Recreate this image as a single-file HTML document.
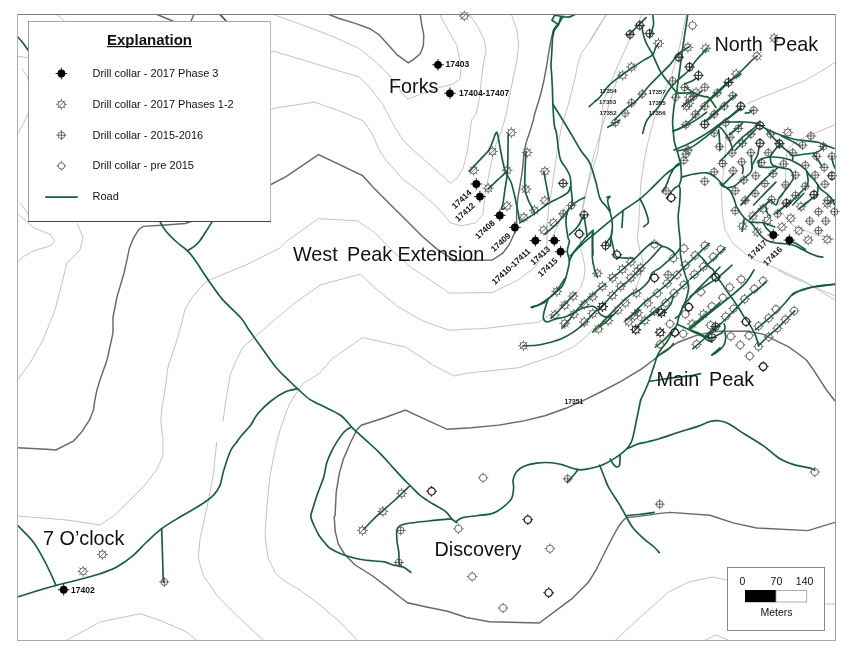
<!DOCTYPE html>
<html><head><meta charset="utf-8">
<style>
html,body{margin:0;padding:0;background:#fff;}
body{width:858px;height:663px;overflow:hidden;position:relative;}
svg{position:absolute;left:0;top:0;will-change:transform;}
text{font-family:"Liberation Sans",sans-serif;}
.c1{fill:none;stroke:#b4b4b4;stroke-width:0.8;}
.c5{fill:none;stroke:#696969;stroke-width:1.45;}
.rd{fill:none;stroke:#0f6236;stroke-width:1.65;stroke-linejoin:round;stroke-linecap:round;}
.lbl{font-size:18.5px;fill:#111;}
.id{font-size:8.5px;font-weight:bold;fill:#111;}
</style></head>
<body>
<svg width="858" height="663" viewBox="0 0 858 663">
<defs>
  <g id="p3"><circle r="3.9" fill="#000"/><path d="M0-5.8V5.8M-5.8 0H5.8" stroke="#000" stroke-width="0.9"/></g>
  <g id="p12"><circle r="3.4" fill="none" stroke="#484848" stroke-width="0.8"/><path d="M-2.4 2.4L2.4-2.4M0-3.4V-5.4M0 3.4V5.4M-3.4 0H-5.4M3.4 0H5.4M-2.4-2.4L-3.8-3.8M2.4 2.4L3.8 3.8M-2.4 2.4L-3.8 3.8M2.4-2.4L3.8-3.8" stroke="#484848" stroke-width="0.8" fill="none"/></g>
  <g id="p15"><circle r="3.4" fill="none" stroke="#484848" stroke-width="0.8"/><path d="M0-5V5M-5 0H5" stroke="#484848" stroke-width="0.8"/></g>
  <g id="pre"><circle r="3.6" fill="none" stroke="#484848" stroke-width="0.8"/><path d="M0-3.6V-5.2M0 3.6V5.2M-3.6 0H-5.2M3.6 0H5.2" stroke="#484848" stroke-width="0.8"/></g>
  <g id="p12d"><circle r="3.4" fill="none" stroke="#222" stroke-width="1.1"/><path d="M-2.4 2.4L2.4-2.4M0-3.4V-5.4M0 3.4V5.4M-3.4 0H-5.4M3.4 0H5.4M-2.4-2.4L-3.8-3.8M2.4 2.4L3.8 3.8M-2.4 2.4L-3.8 3.8M2.4-2.4L3.8-3.8" stroke="#222" stroke-width="1.1" fill="none"/></g>
  <g id="p15d"><circle r="3.6" fill="none" stroke="#2a2a2a" stroke-width="1.1"/><path d="M0-5.2V5.2M-5.2 0H5.2" stroke="#2a2a2a" stroke-width="1"/></g>
  <g id="pred"><circle r="3.7" fill="none" stroke="#1a1a1a" stroke-width="1.2"/><path d="M0-3.7V-5.4M0 3.7V5.4M-3.7 0H-5.4M3.7 0H5.4" stroke="#1a1a1a" stroke-width="1"/></g>
  <g id="preL"><circle r="3.2" fill="none" stroke="#484848" stroke-width="0.8"/><path d="M0-3.2V-4.8M0 3.2V4.8M-3.2 0H-4.8M3.2 0H4.8" stroke="#484848" stroke-width="0.8"/></g>
</defs>

<g id="contours">
<polyline class="c1" points="273.4,14.5 307.0,26.6 334.2,37.1 359.4,48.6 376.2,62.2 390.9,77.0 400.0,90.0 407.6,99.0 422.3,93.7 440.0,87.4 452.6,84.3 460.0,79.0 461.0,68.5 458.9,56.0 456.8,45.5 448.4,30.8 441.0,17.0 440.0,14.5"/>
<polyline class="c1" points="270.2,52.8 274.4,51.3 307.0,61.2 334.2,69.6 359.4,77.0 369.9,87.4 382.5,104.2 395.0,127.3 403.0,140.0 413.0,150.0 432.8,167.3 450.5,183.0 456.8,178.7 463.1,168.2 467.3,151.5 469.4,136.8 471.5,120.0 475.7,114.7 478.8,102.1 481.0,83.2 483.0,66.4 486.2,49.7 484.0,39.2 477.8,26.6 469.4,14.5"/>
<polyline class="c1" points="270.2,110.5 273.4,108.4 314.3,102.1 338.4,110.5 363.6,121.0 372.0,133.6 379.3,150.0 386.7,161.0 403.5,179.9 420.3,192.4 437.0,207.1 450.5,222.8 461.0,225.9 475.7,222.8 483.0,214.4 484.0,203.9 485.1,193.4 488.2,178.7 491.4,162.0 495.6,145.2 501.5,131.0 506.1,114.7 509.2,97.9 513.4,77.0 516.6,62.2 518.7,45.5 516.6,28.7 511.3,14.5"/>
<polyline class="c1" points="17.5,516.0 67.0,520.0 100.0,525.0 113.6,516.0 124.1,505.9 132.5,497.5 145.1,484.9 157.6,468.1 162.9,455.5 162.9,438.7 160.8,422.0 161.8,407.3 165.0,390.0 168.0,367.0 177.0,340.0 182.0,322.0 185.0,309.0 192.6,296.8 203.9,283.9 210.2,279.7 245.9,265.0 279.4,248.2 286.0,241.7 318.5,218.7 357.3,220.8 374.1,232.3 395.1,253.3 411.9,268.0 422.4,274.7 449.6,293.1 492.3,292.5 517.5,280.3 534.3,267.8 546.8,251.0 547.0,224.9 549.1,203.9 551.2,193.4 558.0,145.0 562.0,125.0"/>
<polyline class="c1" points="223.0,421.0 227.0,393.0 230.3,374.4 236.6,359.7 243.0,347.0 257.6,334.5 274.4,319.9 297.5,301.0 320.6,284.8 360.5,274.1 374.1,287.3 397.2,306.2 422.4,320.8 449.6,330.3 466.0,329.2 483.9,328.6 517.5,324.4 538.5,322.3 551.0,313.9 562.0,305.2 573.1,296.8 580.1,288.4 583.8,279.0"/>
<polyline class="c1" points="294.4,396.0 302.8,383.8 319.6,373.3 332.2,358.6 362.6,337.6 405.6,347.1 432.8,364.9 453.8,376.0 466.0,373.3 519.3,367.7 534.0,362.5 555.0,355.5 573.1,347.1 587.1,335.9 592.7,329.0"/>
<polyline class="c1" points="18.3,214.3 33.3,227.7 50.0,234.3 55.0,241.0 50.0,246.0 33.0,251.0 21.7,257.7 17.5,262.7"/>
<polyline class="c1" points="77.0,223.0 83.0,237.0 80.0,250.0 67.0,263.0 62.0,283.0 55.0,310.0 43.0,340.0 30.0,363.0 17.5,380.0"/>
<polyline class="c1" points="66.7,640.3 100.0,622.0 140.0,613.7 160.0,620.3 186.7,632.0 196.7,640.3"/>
<polyline class="c1" points="216.7,442.0 213.3,475.3 206.7,508.7 200.0,538.7 198.3,558.7 203.3,575.3 216.7,595.3 240.0,618.7 263.3,640.3"/>
<polyline class="c1" points="276.7,442.0 270.0,475.3 266.7,508.7 265.0,535.3 268.0,558.0 276.0,574.0 286.0,582.0 300.0,590.0 320.0,605.0 340.0,622.0 357.0,640.3"/>
<polyline class="c1" points="835.4,62.1 824.0,69.5 806.0,80.1 781.6,89.9 762.0,97.2 747.3,103.7"/>
<polyline class="c1" points="606.3,14.5 590.0,41.7"/>
<polyline class="c1" points="641.9,14.8 630.7,37.2 625.1,49.8 616.7,68.0 611.1,81.9 605.5,95.9 602.7,102.0 603.0,116.3 597.8,152.0 591.5,172.9 585.2,193.9 581.0,214.9 579.9,229.6 580.5,240.0 581.0,250.0 584.0,262.0 585.0,270.0 583.8,279.0"/>
<polyline class="c1" points="686.3,14.5 680.0,45.0 671.6,76.0 662.0,96.0 655.0,116.0 648.1,141.5 643.9,162.4 640.8,183.4 639.7,204.4 638.7,225.4 637.3,239.3 640.1,251.4 642.9,260.8 641.0,274.8 637.3,284.1 635.4,290.0"/>
<polyline class="c1" points="726.3,126.2 725.0,160.0 722.0,185.0 721.5,190.0 722.3,212.7 725.0,230.2 733.7,244.2 751.2,258.2 777.4,268.7 803.6,280.9 826.4,294.9 835.0,300.0"/>
<polyline class="c1" points="620.0,70.6 607.8,108.4 601.5,129.4 595.2,150.0 591.0,166.2 586.8,189.2 582.6,210.2"/>
<polyline class="c1" points="615.3,640.3 638.7,618.7 668.7,592.0 688.7,582.0 712.0,577.0 728.7,580.3"/>
<polyline class="c1" points="825.3,603.7 835.3,604.3"/>
<polyline class="c1" points="705.3,640.3 715.3,634.7 728.7,640.3"/>
<polyline class="c1" points="551.0,240.5 558.0,225.0 566.0,205.0"/>
<polyline class="c1" points="606.2,14.5 597.1,28.8 588.7,42.8 581.7,52.6 577.6,65.1 574.8,79.1 570.6,95.9 569.2,102.0 566.0,112.0 562.0,125.0"/>
<polyline class="c1" points="777.6,207.3 792.2,224.8 805.3,230.6 817.0,235.0 834.5,239.3"/>
<polyline class="c1" points="834.7,124.8 817.9,131.8 803.9,137.4 794.1,143.0 787.1,150.0 785.7,164.0 785.7,177.9 784.3,191.9 778.7,205.0"/>
<polyline class="c1" points="777.4,270.0 792.0,277.3 806.6,283.1 815.0,287.5 835.0,296.0"/>
<polyline class="c1" points="56.8,14.5 65.6,22.0"/>
<polyline class="c1" points="17.5,56.3 23.0,57.0 29.0,58.0"/>
<polyline class="c1" points="22.0,68.7 27.0,76.0 29.0,82.4"/>
<polyline class="c1" points="29.0,111.7 23.0,124.0 17.5,134.5"/>
<polyline class="c1" points="20.0,203.0 25.0,209.0 29.0,216.0"/>
<polyline class="c1" points="294.4,396.0 289.0,405.0 284.9,416.0 280.0,430.0 276.7,442.0"/>
<polyline class="c5" points="329.0,14.5 338.4,18.2 355.2,23.4 369.9,28.7 379.3,35.0 388.8,45.5 397.2,54.9 408.3,62.9 414.0,59.1 420.2,53.9 423.4,45.5 423.8,35.0 421.3,22.4 420.2,14.5"/>
<polyline class="c5" points="191.3,221.5 185.0,223.5 162.0,225.2 143.1,226.4 138.9,229.4 133.6,237.8 129.4,248.2 126.3,262.9 124.0,273.0 117.0,297.0 113.0,317.0 113.0,333.0 107.0,360.0 100.0,380.0 96.8,390.5 94.7,401.0 93.7,409.4 89.5,419.9 82.1,431.4 73.7,440.8 55.9,449.9 46.5,449.2 17.5,447.8"/>
<polyline class="c5" points="270.0,185.0 286.0,176.7 318.5,154.7 362.6,175.7 374.1,188.2 388.8,202.9 407.7,221.8 422.4,236.5 437.0,249.1 454.5,260.4 492.3,260.0 502.8,253.1 509.1,244.7 514.5,233.3 516.6,224.9 516.6,212.3 517.6,199.7 519.7,187.1 521.8,174.5 522.9,166.2 523.9,153.6 526.0,143.1 530.2,130.5 533.4,120.0 534.4,114.7 538.4,102.0 541.0,93.0 544.0,80.0 546.5,67.0 548.5,54.0 551.0,40.0 553.1,31.6"/>
<polyline class="c5" points="572.0,598.7 539.3,623.0 510.0,622.3 489.4,621.7 466.4,617.5 447.5,611.2 426.5,607.0 407.6,602.8 399.2,596.5 388.7,588.1 372.0,575.5 355.2,565.0 344.7,554.5 338.4,544.1 335.2,531.5 334.2,516.8 335.1,515.4 336.2,492.3 339.3,473.4 343.5,458.7 350.8,442.0 357.1,429.4 361.3,425.2 384.4,417.8 405.4,410.1 426.4,419.9 447.3,429.3 471.5,427.8 498.7,425.1 523.9,420.9 544.9,415.7 565.9,408.3 586.8,398.9 603.6,390.5 621.0,381.3 642.0,368.7 653.1,360.3 662.9,352.0 678.3,342.2 695.1,335.9 706.3,333.1 719.1,331.2 748.3,331.2 762.8,334.1 777.4,341.4 789.1,347.2 799.3,354.5 806.6,360.3 812.0,367.7 826.5,390.0 835.0,401.0"/>
<polyline class="c5" points="572.0,598.7 580.0,590.5 588.7,582.0 596.0,570.0 603.0,556.0 609.0,544.0 614.3,534.0 619.0,526.0 623.0,520.5 627.0,517.5 637.3,516.6 660.0,513.4 670.3,512.4 709.9,515.2 733.2,522.9 756.6,528.0 807.8,530.6 821.8,526.4 835.0,522.4"/>
<polyline class="c5" points="157.0,14.5 175.0,22.0"/>
<polyline class="c5" points="193.9,14.5 190.6,22.0"/>
</g><g id="roads">
<path class="rd" d="M159.9,221.5 C160.9,223.2 163.4,228.1 166.2,231.5 C169.0,234.9 173.0,238.8 176.6,242.0 C180.2,245.2 184.3,247.7 187.5,250.8 C190.7,253.9 192.1,256.0 195.5,260.8 C198.9,265.6 203.7,273.4 208.1,279.7 C212.5,286.0 216.6,292.5 222.0,298.9 C227.4,305.2 236.3,312.6 240.8,317.8 C245.3,323.0 246.0,325.8 249.2,330.3 C252.3,334.8 255.1,338.7 259.7,345.0 C264.2,351.3 271.9,362.5 276.5,368.1 C281.1,373.7 283.5,375.2 287.0,378.6 C290.5,382.0 293.6,385.2 297.5,388.7 C301.4,392.2 305.2,396.4 310.1,399.6 C315.0,402.8 321.6,405.3 326.8,408.0 C332.0,410.7 337.1,412.6 341.5,416.0 C345.9,419.4 348.9,424.3 352.9,428.3 C356.9,432.3 361.3,436.0 365.5,439.9 C369.7,443.8 373.9,447.2 378.1,451.4 C382.3,455.6 386.9,460.8 390.7,465.0 C394.5,469.2 397.9,473.1 401.2,476.6 C404.5,480.1 407.5,482.9 410.6,486.0 C413.8,489.1 416.4,492.4 420.1,495.4 C423.8,498.4 428.4,501.2 432.6,503.8 C436.8,506.4 442.0,508.7 445.2,511.2 C448.4,513.7 449.9,517.1 451.7,518.9 C453.5,520.7 455.0,521.4 455.9,522.0 C456.8,522.6 456.6,522.6 456.8,522.7"/>
<path class="rd" d="M212.3,221.5 C211.2,223.2 208.1,228.3 206.0,231.5 C203.9,234.7 201.6,238.5 199.7,240.9 C197.8,243.3 196.5,244.5 194.5,246.2 C192.5,247.8 188.7,250.0 187.5,250.8"/>
<path class="rd" d="M297.5,388.7 C295.4,389.2 289.3,389.9 284.9,392.0 C280.5,394.1 275.5,397.4 271.0,401.0 C266.5,404.6 261.4,409.5 258.0,413.5 C254.6,417.5 253.3,421.6 250.6,425.2 C247.9,428.8 244.3,432.2 242.0,435.0 C239.7,437.8 237.6,440.8 236.7,442.0"/>
<path class="rd" d="M550.8,318.0 C551.9,317.1 555.1,314.6 557.3,312.4 C559.5,310.2 561.6,307.2 563.8,304.9 C566.0,302.6 568.3,300.4 570.3,298.4 C572.3,296.4 575.0,293.7 575.9,292.8"/>
<polyline class="rd" points="220.0,14.5 227.0,22.0"/>
<path class="rd" d="M17.5,597.0 C20.1,596.2 26.8,594.0 33.3,592.0 C39.8,590.0 49.5,587.2 56.7,585.3 C63.9,583.3 69.5,582.2 76.7,580.3 C83.9,578.4 93.3,575.9 100.0,573.7 C106.7,571.5 111.2,570.1 116.7,567.0 C122.2,563.9 128.3,559.5 133.3,555.3 C138.3,551.1 142.0,546.4 146.7,542.0 C151.4,537.6 156.1,532.9 161.7,528.7 C167.2,524.5 173.6,520.9 180.0,517.0 C186.4,513.1 194.4,508.9 200.0,505.3 C205.6,501.7 210.0,498.6 213.3,495.3 C216.6,492.0 218.3,489.2 220.0,485.3 C221.7,481.4 221.6,477.6 223.3,472.0 C225.0,466.4 227.8,457.0 230.0,452.0 C232.2,447.0 235.6,443.7 236.7,442.0"/>
<polyline class="rd" points="161.7,528.7 163.3,582.0"/>
<path class="rd" d="M17.5,525.3 C20.1,528.1 29.0,536.4 33.3,542.0 C37.6,547.6 40.5,553.7 43.3,558.7 C46.1,563.7 47.9,567.6 50.0,572.0 C52.1,576.4 55.0,583.1 56.0,585.3"/>
<path class="rd" d="M350.8,427.3 C349.8,428.0 346.6,429.4 344.5,431.5 C342.4,433.6 340.3,436.8 338.2,439.9 C336.1,443.0 333.9,446.5 332.0,450.3 C330.1,454.1 328.1,458.3 326.7,462.9 C325.3,467.4 325.2,472.4 323.6,477.6 C322.0,482.9 319.2,488.8 317.3,494.4 C315.4,500.0 313.1,507.3 312.0,511.2 C310.9,515.0 310.5,514.7 311.0,517.5 C311.5,520.3 313.8,524.9 315.2,528.0 C316.6,531.1 317.8,533.5 319.4,536.0 C321.0,538.5 323.2,541.0 325.0,543.0 C326.8,545.0 327.1,546.3 330.0,548.2 C332.9,550.1 338.1,552.8 342.6,554.5 C347.2,556.2 352.4,557.7 357.3,558.7 C362.2,559.8 367.5,560.3 372.0,560.8 C376.5,561.3 381.0,561.2 384.5,561.9 C388.0,562.6 390.3,564.3 392.9,565.0 C395.5,565.7 398.2,565.6 400.3,566.1 C402.4,566.6 403.8,567.2 405.5,568.2 C407.2,569.2 409.9,571.7 410.8,572.4"/>
<path class="rd" d="M409.6,486.0 C407.2,488.3 400.2,495.2 395.0,500.0 C389.8,504.8 383.4,509.8 378.2,514.7 C373.0,519.6 366.0,527.0 363.6,529.4"/>
<path class="rd" d="M455.9,522.0 C456.9,521.3 458.7,518.8 462.2,517.8 C465.7,516.8 471.7,516.4 476.8,515.7 C481.9,515.0 488.2,514.8 492.6,513.4 C497.0,512.0 500.0,509.6 503.1,507.1 C506.2,504.7 509.8,501.9 511.5,498.7 C513.2,495.5 513.3,491.3 513.6,488.2 C513.9,485.1 512.6,482.7 513.1,479.9 C513.6,477.1 514.9,473.8 516.7,471.5 C518.5,469.2 520.8,467.6 524.1,466.2 C527.4,464.8 532.1,463.7 536.6,463.1 C541.1,462.5 546.8,462.4 551.3,462.7 C555.8,463.0 560.4,464.3 563.9,465.2 C567.4,466.1 569.5,467.5 572.3,468.3 C575.1,469.1 577.6,469.8 580.7,469.8 C583.9,469.8 587.7,469.1 591.2,468.3 C594.7,467.5 598.2,466.6 601.7,465.2 C605.2,463.8 608.7,462.0 612.2,459.9 C615.7,457.8 619.8,454.9 622.6,452.6 C625.4,450.3 627.3,448.4 628.9,446.3 C630.5,444.2 631.2,442.7 632.1,440.0 C633.0,437.3 633.8,433.3 634.5,430.0 C635.2,426.7 635.8,423.3 636.5,420.0 C637.2,416.7 637.9,413.3 638.6,410.0 C639.3,406.7 640.3,401.7 640.6,400.0"/>
<path class="rd" d="M451.7,518.9 C447.9,519.2 436.0,520.2 428.6,521.0 C421.2,521.8 412.5,522.6 407.6,523.5 C402.7,524.4 401.0,524.9 399.2,526.2 C397.4,527.5 397.0,528.9 396.7,531.5 C396.4,534.1 396.8,538.5 397.1,542.0 C397.5,545.5 398.5,548.9 398.8,552.4 C399.1,555.9 398.8,560.5 399.2,562.9 C399.6,565.3 400.9,566.1 401.3,566.7"/>
<path class="rd" d="M627.9,448.4 C629.5,447.7 634.0,445.3 637.3,444.2 C640.6,443.1 644.2,442.6 647.8,441.7 C651.3,440.8 653.3,440.6 658.6,439.0 C663.9,437.4 673.0,434.1 679.6,432.0 C686.2,429.9 693.2,427.9 698.3,426.1 C703.3,424.4 706.4,422.4 709.9,421.5 C713.4,420.6 716.2,420.4 719.3,420.8 C722.4,421.2 724.3,421.6 728.6,423.8 C732.9,426.1 739.1,430.6 744.9,434.3 C750.7,438.0 757.7,441.8 763.5,445.9 C769.3,450.0 774.9,455.7 779.9,458.8 C784.9,461.9 788.8,463.1 793.8,464.6 C798.8,466.2 806.7,467.1 810.2,468.1 C813.7,469.1 814.0,470.0 814.8,470.4"/>
<path class="rd" d="M610.1,458.9 C610.6,459.8 612.2,462.8 613.2,464.1 C614.2,465.4 615.4,466.7 616.4,466.9 C617.4,467.1 618.9,467.1 619.5,465.2 C620.1,463.3 620.0,457.3 620.1,455.7"/>
<path class="rd" d="M577.5,470.4 C576.6,471.4 574.0,474.8 572.3,476.7 C570.6,478.6 568.0,481.1 567.1,482.0"/>
<path class="rd" d="M599.6,465.2 C600.3,466.9 602.2,471.9 603.8,475.7 C605.4,479.5 606.5,483.7 609.0,488.2 C611.5,492.7 615.5,498.0 618.5,502.9 C621.5,507.8 624.4,513.4 626.8,517.6 C629.2,521.8 630.3,524.6 633.1,528.1 C635.9,531.6 640.1,535.5 643.6,538.6 C647.1,541.8 651.5,544.6 654.1,547.0 C656.7,549.4 658.4,551.8 659.3,552.7"/>
<path class="rd" d="M626.8,515.5 C628.9,515.3 634.8,515.0 639.4,514.5 C644.0,514.0 651.6,512.8 654.1,512.4"/>
<path class="rd" d="M558.0,23.9 C557.5,24.5 556.0,26.1 555.2,27.4 C554.4,28.7 553.6,29.5 553.1,31.6 C552.6,33.7 552.6,36.3 552.4,40.0 C552.2,43.7 551.9,49.8 551.7,54.0 C551.5,58.2 551.0,61.6 551.0,65.1 C551.0,68.6 551.5,70.9 551.7,74.9 C551.9,78.9 552.2,84.0 552.4,88.9 C552.6,93.8 552.6,98.2 552.9,104.2 C553.2,110.2 553.7,120.5 554.3,125.2 C554.9,129.9 555.7,128.6 556.4,132.6 C557.1,136.6 557.8,144.8 558.5,149.4 C559.2,154.0 559.4,156.8 560.6,159.9 C561.8,163.0 564.3,165.4 565.9,168.2 C567.5,171.0 569.2,173.1 570.1,176.6 C571.0,180.1 570.8,184.6 571.1,189.2 C571.5,193.8 572.7,200.4 572.2,203.9 C571.7,207.4 569.0,207.4 568.0,210.2 C567.0,213.0 565.9,216.1 565.9,220.7 C565.9,225.2 567.4,234.1 568.0,237.5 C568.6,240.9 569.5,238.9 569.4,241.2 C569.3,243.4 567.3,247.7 567.3,251.0 C567.3,254.3 569.3,257.8 569.4,260.8 C569.5,263.8 568.6,266.4 568.0,269.2 C567.4,272.0 566.8,274.8 565.9,277.6 C565.0,280.4 564.1,283.3 562.4,285.9 C560.6,288.4 557.7,290.8 555.4,292.9 C553.1,295.0 551.0,296.6 548.4,298.5 C545.8,300.4 541.4,303.2 540.0,304.1"/>
<polyline class="rd" points="554.5,15.3 561.0,16.3 558.5,24.6 552.0,20.2 554.5,15.3"/>
<path class="rd" d="M561.0,16.5 C561.7,16.6 563.6,16.9 565.0,17.0 C566.4,17.1 567.6,17.3 569.2,16.9 C570.9,16.5 574.0,14.9 574.9,14.5"/>
<path class="rd" d="M552.9,104.2 C555.1,107.7 561.3,117.6 565.9,125.2 C570.5,132.8 576.6,143.8 580.5,150.0 C584.4,156.2 586.9,157.2 589.4,162.4 C591.9,167.6 594.0,175.4 595.7,181.3 C597.5,187.2 598.1,193.9 599.9,198.1 C601.6,202.3 604.5,204.1 606.2,206.5 C607.9,208.9 609.3,209.7 610.3,212.8 C611.3,216.0 612.2,221.6 612.4,225.4 C612.6,229.2 611.8,232.5 611.4,235.9 C611.0,239.3 610.5,244.3 610.3,246.0"/>
<path class="rd" d="M469.4,171.4 C471.1,169.5 476.6,163.6 479.9,159.9 C483.2,156.2 486.7,153.8 489.3,149.4 C491.9,145.0 494.2,136.1 495.6,133.6 C497.0,131.1 496.8,131.7 497.7,134.7 C498.6,137.7 499.6,145.6 500.8,151.5 C502.0,157.4 503.2,165.1 505.0,170.3 C506.8,175.5 509.6,178.0 511.3,182.9 C513.0,187.8 514.1,193.4 515.5,199.7 C516.9,206.0 519.0,217.2 519.7,220.7"/>
<path class="rd" d="M488.2,189.2 C489.6,187.8 493.5,183.8 496.6,180.8 C499.8,177.8 505.4,173.0 507.1,171.4"/>
<path class="rd" d="M508.2,133.6 C508.1,139.7 508.0,161.0 507.5,170.3 C507.0,179.6 505.8,183.6 505.0,189.2 C504.2,194.8 503.5,200.6 502.9,203.9 C502.3,207.2 500.9,208.5 501.3,209.2 C501.7,209.9 504.4,208.3 505.0,208.1"/>
<path class="rd" d="M526.0,151.5 C525.8,155.0 525.2,166.1 525.0,172.4 C524.8,178.7 524.5,184.6 525.0,189.2 C525.5,193.8 526.9,196.5 528.1,199.7 C529.3,202.8 531.2,206.0 532.3,208.1 C533.3,210.2 534.0,211.6 534.4,212.3"/>
<path class="rd" d="M519.7,222.8 C521.5,221.8 527.4,218.2 530.2,216.5 C533.0,214.8 534.0,214.1 536.5,212.3 C539.0,210.6 542.4,207.8 544.9,206.0 C547.4,204.2 548.8,203.2 551.2,201.8 C553.7,200.4 556.8,199.2 559.6,197.6 C562.4,196.0 566.2,194.2 568.0,192.4 C569.8,190.7 569.8,188.0 570.1,187.1"/>
<path class="rd" d="M543.8,171.4 C544.1,173.3 545.0,178.2 545.9,182.9 C546.8,187.6 548.6,196.9 549.1,199.7"/>
<path class="rd" d="M544.9,234.3 C547.0,232.4 553.6,226.8 557.5,222.8 C561.4,218.8 564.9,213.7 568.0,210.2 C571.1,206.7 573.6,203.9 576.4,201.8 C579.2,199.7 583.3,198.3 584.7,197.6"/>
<path class="rd" d="M569.4,234.8 C570.8,233.5 575.1,229.9 577.5,226.7 C579.9,223.4 582.9,217.2 584.0,215.3"/>
<path class="rd" d="M570.1,256.0 C572.2,254.0 578.4,247.6 582.6,243.8 C586.8,240.0 591.0,236.8 595.2,233.3 C599.4,229.8 603.2,226.6 607.8,222.8 C612.4,219.0 617.6,214.6 622.9,210.7 C628.2,206.8 634.8,203.0 639.7,199.2 C644.6,195.3 648.1,191.6 652.3,187.6 C656.5,183.6 661.4,178.2 664.9,175.0 C668.4,171.8 670.7,170.6 673.3,168.7 C675.9,166.8 679.4,164.4 680.6,163.5"/>
<path class="rd" d="M606.9,197.3 C607.4,197.2 610.0,196.1 610.1,196.5 C610.2,196.9 608.0,198.0 607.7,199.5 C607.4,201.0 608.1,203.7 608.5,205.5 C608.9,207.3 609.8,209.6 610.1,210.4"/>
<path class="rd" d="M584.0,215.3 C584.3,217.2 585.2,223.2 585.7,226.7 C586.2,230.2 587.0,234.9 587.3,236.5"/>
<polyline class="rd" points="592.2,233.2 593.0,255.0"/>
<polyline class="rd" points="607.8,127.3 620.0,120.0"/>
<path class="rd" d="M680.6,163.5 C680.1,161.6 678.5,155.7 677.5,152.0 C676.5,148.3 675.0,145.0 674.3,141.5 C673.6,138.0 673.6,134.1 673.3,131.0 C673.0,127.9 672.6,125.9 672.6,122.9 C672.6,119.9 672.9,116.6 673.3,113.1 C673.6,109.6 674.1,105.5 674.7,102.0 C675.3,98.5 676.3,95.0 676.8,92.2 C677.3,89.4 677.0,88.7 677.5,85.2 C678.0,81.7 679.0,75.4 679.6,71.2 C680.2,67.0 680.6,63.3 681.0,60.0 C681.4,56.7 681.6,55.6 682.2,51.5 C682.8,47.4 683.7,41.2 684.6,35.2 C685.5,29.2 687.1,18.9 687.6,15.6"/>
<path class="rd" d="M680.6,163.5 C680.7,165.1 681.2,170.2 681.3,172.9 C681.4,175.7 681.4,177.9 681.0,180.0 C680.6,182.1 679.4,184.0 679.2,185.6 C679.1,187.2 680.0,186.4 680.1,189.3 C680.2,192.2 679.9,199.0 679.6,203.3 C679.3,207.7 678.4,211.5 678.2,215.4 C678.1,219.3 678.4,222.5 678.7,226.6 C679.0,230.7 679.8,235.4 680.1,240.0 C680.4,244.6 680.0,249.8 680.4,254.0 C680.8,258.2 681.7,261.7 682.5,265.2 C683.3,268.7 684.3,271.6 685.3,275.0 C686.3,278.4 688.1,282.4 688.5,285.6 C688.9,288.8 688.1,291.5 687.6,294.0 C687.1,296.5 686.5,298.3 685.7,300.5 C684.9,302.7 683.8,304.8 682.9,307.0 C682.0,309.2 680.9,311.6 680.1,313.6 C679.3,315.6 678.7,317.5 678.2,319.2 C677.7,320.9 677.9,322.1 677.3,323.8 C676.7,325.5 675.6,327.5 674.5,329.4 C673.4,331.3 671.9,333.2 670.8,335.0 C669.7,336.8 668.9,338.6 668.0,340.0 C667.1,341.4 667.0,341.8 665.7,343.6 C664.4,345.4 661.6,348.3 660.1,350.6 C658.6,352.9 657.5,355.3 656.6,357.6 C655.7,359.9 655.3,361.9 654.5,364.5 C653.7,367.1 652.6,370.1 651.7,372.9 C650.8,375.7 650.1,378.3 649.0,381.3 C647.9,384.3 646.2,388.0 644.8,391.1 C643.4,394.2 641.3,398.5 640.6,400.0"/>
<path class="rd" d="M681.7,177.1 C683.8,176.6 690.1,174.7 694.3,174.0 C698.5,173.3 703.3,172.4 706.8,172.9 C710.3,173.4 712.4,175.0 715.2,177.1 C718.0,179.2 721.2,183.3 723.6,185.5 C726.0,187.7 728.1,188.3 729.8,190.5 C731.5,192.7 732.8,196.1 734.0,198.9 C735.2,201.7 735.2,204.2 736.9,207.3 C738.6,210.4 741.7,214.8 744.1,217.5 C746.5,220.2 749.5,221.4 751.4,223.3 C753.3,225.2 754.1,226.9 755.8,229.1 C757.5,231.3 759.7,234.4 761.6,236.4 C763.5,238.4 765.0,239.7 767.4,240.8 C769.8,241.9 773.3,242.5 776.2,243.0 C779.1,243.5 782.0,243.3 784.9,243.7 C787.8,244.1 790.8,244.2 793.7,245.2 C796.6,246.2 799.7,248.2 802.4,249.5 C805.1,250.8 807.3,252.1 809.7,253.2 C812.1,254.3 814.8,255.5 817.0,256.1 C819.2,256.8 821.8,256.9 822.8,257.1"/>
<path class="rd" d="M677.5,150.9 C679.6,150.4 685.9,149.7 690.1,147.8 C694.3,145.9 698.8,142.2 702.6,139.4 C706.4,136.6 709.6,133.8 713.1,131.0 C716.6,128.2 720.6,124.1 723.6,122.6 C726.6,121.1 727.6,122.1 731.2,122.0 C734.8,121.9 741.0,121.8 745.2,122.0 C749.4,122.2 753.8,122.8 756.4,123.4 C759.0,124.0 759.0,124.6 760.6,125.5 C762.2,126.4 763.7,127.7 766.2,129.0 C768.8,130.3 772.6,131.9 775.9,133.2 C779.1,134.5 782.4,135.6 785.7,136.7 C789.0,137.8 792.0,138.8 795.5,139.5 C799.0,140.2 803.0,140.4 806.7,140.9 C810.4,141.4 814.9,141.6 817.9,142.3 C820.9,143.0 822.2,144.1 824.9,145.1 C827.6,146.1 832.5,148.0 834.0,148.6"/>
<path class="rd" d="M673.3,131.0 C675.4,130.1 681.7,127.8 685.9,125.7 C690.1,123.6 695.0,120.7 698.5,118.4 C702.0,116.1 705.4,113.1 706.8,112.1"/>
<path class="rd" d="M662.4,192.1 C663.0,191.0 664.8,188.5 666.1,185.6 C667.5,182.7 669.0,177.7 670.5,174.5 C672.0,171.3 674.0,168.1 675.4,166.3 C676.8,164.5 678.4,164.0 679.0,163.5"/>
<path class="rd" d="M640.0,198.6 C640.6,199.8 642.6,203.6 643.7,206.1 C644.8,208.6 645.7,211.1 646.5,213.6 C647.3,216.1 648.2,219.3 648.4,221.0 C648.6,222.7 648.3,222.9 647.5,223.8 C646.7,224.7 644.3,226.1 643.7,226.6"/>
<path class="rd" d="M622.9,210.7 C622.8,212.1 622.7,216.3 622.5,219.1 C622.3,221.9 622.0,226.1 621.9,227.5"/>
<path class="rd" d="M589.3,106.7 C590.1,105.9 592.5,103.6 594.3,102.0 C596.0,100.4 597.5,99.9 599.8,97.2 C602.1,94.5 605.2,89.3 608.3,86.1 C611.3,82.8 614.8,80.3 618.1,77.7 C621.4,75.1 624.9,72.8 627.9,70.7 C630.9,68.6 633.5,66.9 636.3,65.1 C639.1,63.2 642.0,61.3 644.7,59.6 C647.5,57.9 651.0,56.7 652.8,54.8 C654.6,52.9 654.3,50.2 655.3,48.3 C656.2,46.4 658.0,44.2 658.5,43.4"/>
<path class="rd" d="M627.9,35.8 C629.3,34.4 633.3,30.4 636.3,27.4 C639.3,24.4 644.5,19.2 646.1,17.6"/>
<path class="rd" d="M641.9,26.0 C642.1,27.4 642.6,31.6 643.3,34.4 C644.0,37.2 645.0,40.2 646.1,42.8 C647.2,45.4 648.9,47.8 650.0,49.8 C651.1,51.8 651.1,51.2 652.8,54.8 C654.5,58.3 657.6,66.5 660.2,71.1 C662.8,75.7 666.0,79.5 668.3,82.5 C670.6,85.5 672.4,87.7 674.0,89.4 C675.6,91.1 675.9,92.3 678.2,92.9 C680.5,93.5 685.7,93.0 688.0,92.9 C690.3,92.8 691.5,92.3 692.2,92.2"/>
<path class="rd" d="M652.8,15.6 C652.9,17.0 653.7,21.4 653.6,23.8 C653.5,26.2 652.7,28.1 652.0,30.3 C651.3,32.5 650.0,35.7 649.6,36.8"/>
<path class="rd" d="M614.5,120.0 C616.4,118.1 622.5,111.6 625.9,108.6 C629.3,105.6 632.2,104.3 634.9,102.0 C637.6,99.7 639.4,97.4 641.9,94.5 C644.4,91.6 647.0,88.0 650.0,84.7 C653.0,81.4 656.9,77.8 660.2,74.4 C663.5,71.1 667.3,67.6 670.0,64.6 C672.7,61.6 674.6,58.6 676.5,56.4 C678.4,54.2 679.2,53.1 681.4,51.5 C683.6,49.9 688.1,47.4 689.5,46.6"/>
<path class="rd" d="M642.7,133.3 C643.4,131.1 644.5,124.4 647.1,120.0 C649.7,115.6 655.0,111.9 658.5,107.0 C662.0,102.1 665.4,95.1 668.4,90.8 C671.4,86.5 673.5,84.3 676.8,81.0 C680.1,77.7 684.7,74.7 688.0,71.2 C691.3,67.7 693.1,63.8 696.4,60.0 C699.6,56.2 705.6,50.2 707.5,48.3"/>
<path class="rd" d="M672.6,131.3 C674.0,130.7 678.4,129.2 681.0,127.8 C683.6,126.4 685.7,124.9 688.0,122.9 C690.3,120.9 692.7,118.5 695.0,116.0 C697.3,113.5 699.7,110.2 702.0,107.6 C704.3,105.0 706.2,103.2 709.0,100.6 C711.8,98.0 715.5,95.2 718.7,92.2 C722.0,89.2 725.2,85.4 728.5,82.4 C731.8,79.4 735.3,76.8 738.3,74.0 C741.3,71.2 744.4,67.9 746.7,65.6 C749.0,63.3 750.6,61.6 752.3,60.0 C754.0,58.4 756.3,56.8 757.1,56.1"/>
<path class="rd" d="M685.2,86.6 C686.8,87.8 692.0,92.0 695.0,93.6 C698.0,95.2 701.1,95.7 703.4,96.4 C705.7,97.1 706.9,95.9 709.0,97.8 C711.1,99.7 714.8,106.0 716.0,107.6"/>
<path class="rd" d="M685.2,83.8 C686.4,83.3 690.3,81.9 692.2,81.0 C694.1,80.1 695.5,78.4 696.4,78.2 C697.3,78.0 697.6,79.4 697.8,79.6"/>
<path class="rd" d="M682.4,106.2 C684.3,104.8 690.3,100.4 693.6,97.8 C696.9,95.2 700.6,92.0 702.0,90.8"/>
<path class="rd" d="M704.8,121.5 C706.7,119.9 712.5,114.7 716.0,111.7 C719.5,108.7 722.3,106.3 725.7,103.4 C729.1,100.5 734.5,95.8 736.2,94.3"/>
<path class="rd" d="M674.0,150.0 C676.3,149.0 683.3,146.2 688.0,143.9 C692.7,141.6 698.0,138.5 702.0,136.2 C706.0,133.9 709.2,131.7 711.7,129.9 C714.2,128.2 714.7,127.6 717.3,125.7 C719.9,123.8 724.1,121.0 727.1,118.7 C730.1,116.4 733.3,113.6 735.5,111.7 C737.7,109.8 739.6,108.3 740.4,107.6"/>
<path class="rd" d="M717.3,125.7 C718.0,126.2 720.1,127.1 721.5,128.5 C722.9,129.9 724.3,132.0 725.7,134.1 C727.1,136.2 728.8,138.4 730.0,141.1 C731.2,143.8 732.2,148.5 732.7,150.0"/>
<path class="rd" d="M718.7,129.9 C718.8,131.3 719.2,135.0 719.4,138.3 C719.6,141.7 720.0,148.1 720.1,150.0"/>
<path class="rd" d="M730.0,134.1 C731.4,132.9 736.2,129.0 738.3,127.1 C740.4,125.2 741.8,123.6 742.5,122.9"/>
<path class="rd" d="M735.5,150.0 C737.4,148.1 743.2,141.9 746.7,138.3 C750.2,134.7 754.9,130.1 756.5,128.5"/>
<path class="rd" d="M745.3,113.1 C746.0,113.0 748.3,112.9 749.5,112.4 C750.7,111.9 751.8,110.7 752.3,110.3"/>
<path class="rd" d="M706.5,102.1 C710.0,98.8 722.0,87.1 727.7,82.5 C733.4,77.9 738.6,75.8 740.8,74.4"/>
<polyline class="rd" points="708.2,120.0 735.9,94.8"/>
<polyline class="rd" points="726.1,120.0 740.8,108.6"/>
<path class="rd" d="M720.0,161.2 C721.4,159.8 726.1,155.4 728.4,152.8 C730.7,150.2 731.7,148.4 734.0,145.8 C736.3,143.2 738.7,140.7 742.4,137.4 C746.1,134.1 754.1,128.1 756.4,126.2"/>
<polyline class="rd" points="729.8,134.6 741.0,124.8"/>
<path class="rd" d="M766.2,129.0 C767.1,130.2 769.6,133.7 771.7,136.0 C773.8,138.3 776.6,140.9 778.7,143.0 C780.8,145.1 782.4,147.0 784.3,148.6 C786.2,150.2 788.5,151.6 789.9,152.8 C791.3,154.0 790.4,155.4 792.7,155.6 C795.0,155.8 800.2,154.7 803.9,154.2 C807.6,153.7 812.3,153.5 815.1,152.8 C817.9,152.1 819.2,151.3 820.7,150.0 C822.2,148.7 823.6,145.9 824.2,145.1"/>
<path class="rd" d="M781.5,136.0 C783.4,136.9 789.6,139.8 792.7,141.6 C795.9,143.3 799.1,145.7 800.4,146.5"/>
<polyline class="rd" points="792.7,155.6 792.7,159.8"/>
<path class="rd" d="M813.7,154.2 C814.4,155.1 816.5,157.7 817.9,159.8 C819.3,161.9 821.4,165.5 822.1,166.7"/>
<path class="rd" d="M780.1,144.4 C779.4,145.1 777.3,147.0 775.9,148.6 C774.5,150.2 772.6,152.8 771.7,154.2 C770.8,155.6 770.5,156.5 770.3,157.0"/>
<path class="rd" d="M757.8,161.2 C759.0,160.6 762.2,158.4 764.8,157.7 C767.3,157.0 770.3,157.0 773.1,157.0 C775.9,157.0 778.7,157.2 781.5,157.7 C784.3,158.2 787.1,158.8 789.9,159.8 C792.7,160.9 795.7,162.4 798.3,164.0 C800.9,165.6 803.4,167.7 805.3,169.5 C807.2,171.3 808.1,173.5 809.5,175.1 C810.9,176.7 812.3,177.7 813.7,179.3 C815.1,180.9 816.7,183.3 817.9,184.9 C819.1,186.5 819.3,187.7 820.7,189.1 C822.1,190.5 824.4,191.7 826.3,193.3 C828.2,194.9 830.5,197.0 831.9,198.9 C833.3,200.8 834.2,204.0 834.7,205.0"/>
<path class="rd" d="M806.7,171.0 C806.9,172.6 808.1,178.1 808.1,180.7 C808.1,183.2 807.6,184.7 806.7,186.3 C805.8,187.9 803.9,189.1 802.5,190.5 C801.1,191.9 799.7,193.3 798.3,194.7 C796.9,196.1 795.5,197.5 794.1,198.9 C792.7,200.3 791.4,201.9 789.9,203.1 C788.4,204.2 787.2,204.1 784.9,205.8 C782.6,207.5 777.7,211.9 776.2,213.1"/>
<path class="rd" d="M817.9,184.9 C817.9,185.8 818.1,188.6 817.9,190.5 C817.7,192.4 816.7,195.2 816.5,196.1"/>
<path class="rd" d="M759.2,161.2 C759.2,162.1 757.6,165.7 759.2,166.7 C760.8,167.7 766.2,167.4 769.0,167.4 C771.8,167.4 773.6,166.6 775.9,166.7 C778.2,166.8 780.6,167.6 782.9,168.1 C785.2,168.6 788.3,168.6 789.9,169.5 C791.5,170.4 792.1,172.3 792.7,173.7 C793.3,175.1 793.6,176.5 793.4,177.9 C793.2,179.3 792.3,180.5 791.3,182.1 C790.2,183.7 788.5,185.8 787.1,187.7 C785.7,189.6 784.3,191.4 782.9,193.3 C781.5,195.2 779.9,197.0 778.7,198.9 C777.5,200.8 777.3,204.8 775.9,205.0 C774.5,205.2 771.8,200.3 770.4,200.0 C769.0,199.7 769.3,201.2 767.4,202.9 C765.5,204.6 761.6,207.5 758.7,210.2 C755.8,212.9 751.5,217.4 750.0,218.9"/>
<path class="rd" d="M770.3,157.0 C770.4,157.9 770.5,161.2 771.0,162.6 C771.5,164.0 771.8,164.5 773.1,165.3 C774.4,166.1 777.8,167.1 778.7,167.4"/>
<path class="rd" d="M759.2,145.8 C759.0,147.2 758.5,151.9 757.8,154.2 C757.1,156.5 755.9,158.0 755.0,159.8 C754.1,161.7 752.8,163.4 752.2,165.3 C751.6,167.2 752.2,169.4 751.5,171.0 C750.8,172.6 749.8,173.5 748.0,175.1 C746.2,176.7 743.3,178.8 741.0,180.7 C738.7,182.6 736.3,185.1 734.0,186.3 C731.7,187.5 728.9,187.7 727.0,187.7 C725.1,187.7 724.0,187.0 722.8,186.3 C721.6,185.6 720.5,184.0 720.0,183.5"/>
<path class="rd" d="M751.5,155.6 C751.5,156.8 751.4,160.5 751.5,162.6 C751.6,164.7 752.1,167.2 752.2,168.1"/>
<path class="rd" d="M742.4,165.3 C742.5,166.0 743.1,168.1 743.1,169.5 C743.1,170.9 742.5,173.0 742.4,173.7"/>
<path class="rd" d="M722.8,184.9 C723.7,184.0 726.5,181.2 728.4,179.3 C730.3,177.4 733.1,174.6 734.0,173.7"/>
<path class="rd" d="M741.0,205.0 C743.3,202.3 750.8,193.6 755.0,189.1 C759.2,184.6 762.5,181.4 766.2,177.9 C769.9,174.4 775.4,169.7 777.3,168.1"/>
<path class="rd" d="M753.6,205.0 C755.5,203.1 761.1,197.1 764.8,193.3 C768.5,189.5 774.0,184.0 775.9,182.1"/>
<polyline class="rd" points="792.7,205.0 803.9,193.3"/>
<polyline class="rd" points="803.9,205.0 815.1,196.1"/>
<path class="rd" d="M831.9,157.0 C832.1,158.2 832.8,162.2 833.3,164.0 C833.8,165.8 834.7,167.4 835.0,168.1"/>
<path class="rd" d="M750.0,221.9 C751.2,222.0 755.0,222.5 757.2,222.6 C759.4,222.7 761.2,222.2 763.1,222.6 C765.0,223.0 767.0,224.1 768.9,224.8 C770.8,225.5 773.7,226.6 774.7,227.0"/>
<path class="rd" d="M763.1,222.6 C763.6,223.4 764.8,226.1 766.0,227.7 C767.2,229.3 769.2,230.9 770.4,232.1 C771.6,233.3 772.8,234.5 773.3,235.0"/>
<path class="rd" d="M790.8,241.5 C791.8,241.9 794.2,242.4 796.6,243.7 C799.0,245.0 803.8,248.5 805.3,249.5"/>
<path class="rd" d="M744.1,218.9 C744.0,219.9 743.8,222.7 743.4,224.8 C743.0,226.9 742.2,230.2 742.0,231.3"/>
<path class="rd" d="M750.0,218.9 C751.5,217.4 755.8,212.9 758.7,210.2 C761.6,207.5 765.5,204.6 767.4,202.9 C769.3,201.2 769.9,200.5 770.4,200.0"/>
<path class="rd" d="M766.0,207.3 C766.2,208.3 766.7,211.7 767.4,213.1 C768.1,214.5 769.9,215.5 770.4,216.0"/>
<path class="rd" d="M776.2,213.1 C777.7,211.9 782.5,208.0 784.9,205.8 C787.3,203.6 789.8,201.0 790.8,200.0"/>
<polyline class="rd" points="799.5,208.7 808.2,201.5"/>
<polyline class="rd" points="741.2,204.4 747.1,200.0"/>
<polyline class="rd" points="827.2,204.4 834.5,200.0"/>
<path class="rd" d="M792.2,295.0 C793.9,294.1 798.3,291.1 802.4,289.6 C806.5,288.1 811.6,286.9 817.0,286.0 C822.4,285.1 831.6,284.8 834.5,284.5"/>
<path class="rd" d="M697.9,254.0 C698.8,254.9 701.6,257.5 703.5,259.6 C705.4,261.7 707.5,264.9 709.1,266.6 C710.7,268.3 712.2,268.5 713.3,270.0 C714.4,271.5 714.3,273.9 715.5,275.8 C716.7,277.8 718.8,279.3 720.6,281.7 C722.4,284.1 724.2,287.2 726.4,290.4 C728.6,293.5 731.5,297.5 733.7,300.6 C735.9,303.8 737.8,306.6 739.5,309.3 C741.2,312.0 742.4,314.4 743.9,316.6 C745.4,318.8 746.8,320.2 748.3,322.4 C749.8,324.6 751.4,327.5 752.6,329.7 C753.8,331.9 754.8,333.4 755.6,335.6 C756.5,337.8 757.2,341.1 757.7,342.8 C758.2,344.5 758.4,345.3 758.5,345.8"/>
<path class="rd" d="M758.5,345.8 C760.0,344.3 764.1,339.9 767.2,337.0 C770.4,334.1 774.2,331.2 777.4,328.3 C780.6,325.4 783.3,322.4 786.2,319.5 C789.1,316.6 793.5,312.2 794.9,310.8"/>
<path class="rd" d="M755.6,329.7 C757.3,328.2 762.6,323.7 765.8,321.0 C768.9,318.3 771.6,316.4 774.5,313.7 C777.4,311.0 780.3,308.1 783.2,305.0 C786.1,301.9 790.0,296.9 792.0,294.8 C794.0,292.7 793.0,293.5 794.9,292.6 C796.8,291.8 800.2,290.7 803.6,289.7 C807.0,288.7 809.8,287.8 815.0,286.8 C820.2,285.9 831.7,284.5 835.0,284.0"/>
<path class="rd" d="M690.0,328.3 C692.0,326.8 697.3,322.9 701.7,319.5 C706.1,316.1 711.4,311.8 716.2,307.9 C721.1,304.0 725.9,300.3 730.8,296.2 C735.7,292.1 741.5,287.5 745.4,283.1 C749.3,278.7 752.6,272.2 754.1,270.0"/>
<path class="rd" d="M692.9,348.7 C694.9,347.0 700.2,342.4 704.6,338.5 C709.0,334.6 714.2,330.0 719.1,325.4 C724.0,320.8 728.8,315.7 733.7,310.8 C738.6,305.9 743.9,300.1 748.3,296.2 C752.7,292.3 757.0,289.9 759.9,287.5 C762.8,285.1 764.8,282.7 765.8,281.7"/>
<path class="rd" d="M690.0,329.7 C691.2,330.2 694.6,331.4 697.3,332.6 C700.0,333.8 703.6,336.0 706.0,337.0 C708.4,338.0 710.2,338.7 711.9,338.5 C713.6,338.3 714.5,336.6 716.2,335.6 C717.9,334.6 720.6,333.8 722.1,332.6 C723.6,331.4 724.6,329.8 725.0,328.3 C725.4,326.9 724.3,324.6 724.2,323.9"/>
<path class="rd" d="M725.0,332.6 C725.1,333.6 726.0,336.3 725.7,338.5 C725.5,340.7 724.8,343.6 723.5,345.8 C722.2,348.0 719.6,350.0 717.7,351.6 C715.8,353.2 712.9,354.6 711.9,355.2"/>
<path class="rd" d="M690.0,296.6 C692.0,295.2 697.5,291.1 702.2,287.9 C706.9,284.7 713.0,281.2 718.0,277.4 C723.0,273.6 729.7,267.2 732.0,265.2"/>
<path class="rd" d="M690.0,279.2 C691.8,277.7 696.7,273.6 700.5,270.4 C704.3,267.2 708.6,263.7 712.7,259.9 C716.8,256.1 723.0,249.7 725.0,247.7"/>
<path class="rd" d="M649.7,381.3 C651.9,380.9 658.1,379.9 662.9,379.2 C667.7,378.5 673.6,377.7 678.3,377.1 C683.0,376.5 687.2,376.3 690.9,375.7 C694.6,375.1 699.1,374.0 700.7,373.6"/>
<path class="rd" d="M657.3,356.2 C658.5,355.5 662.2,353.4 664.3,352.0 C666.4,350.6 668.4,349.2 669.9,347.8 C671.4,346.4 672.8,344.3 673.4,343.6"/>
<path class="rd" d="M655.2,347.1 C656.5,346.1 660.2,343.2 662.9,340.8 C665.6,338.4 669.9,333.8 671.3,332.4"/>
<path class="rd" d="M677.3,324.3 C678.8,325.0 683.5,327.0 686.6,328.5 C689.7,330.0 693.1,331.7 695.9,333.1 C698.7,334.5 701.5,335.8 703.4,336.9 C705.3,338.0 705.7,338.8 707.1,339.7 C708.5,340.6 711.1,341.8 711.9,342.2"/>
<polyline class="rd" points="711.9,354.8 720.0,347.8"/>
<path class="rd" d="M689.5,328.2 C691.4,326.6 697.0,321.4 700.7,318.4 C704.4,315.4 710.0,311.4 711.9,310.0"/>
<polyline class="rd" points="625.2,320.5 639.2,310.0"/>
<path class="rd" d="M635.0,328.2 C636.6,326.8 640.8,322.8 644.8,319.8 C648.8,316.8 656.4,311.6 658.7,310.0"/>
<path class="rd" d="M600.0,326.8 C601.4,325.6 605.4,322.6 608.4,319.8 C611.4,317.0 616.6,311.6 618.2,310.0"/>
<path class="rd" d="M593.1,230.0 C592.0,231.2 588.5,234.4 586.2,237.0 C583.9,239.6 581.3,242.8 579.2,245.4 C577.1,248.0 575.2,249.8 573.6,252.4 C572.0,255.0 570.1,259.4 569.4,260.8"/>
<path class="rd" d="M593.1,231.4 C593.0,233.5 592.5,239.6 592.4,244.0 C592.3,248.4 592.2,254.3 592.4,258.0 C592.6,261.7 593.2,263.8 593.8,266.4 C594.4,269.0 595.3,271.8 595.9,273.4 C596.5,275.0 597.1,275.7 597.3,276.2"/>
<path class="rd" d="M531.2,307.2 C532.4,306.8 536.4,305.8 538.6,304.9 C540.8,304.0 542.6,303.0 544.2,302.1 C545.8,301.2 546.6,300.5 548.0,299.3 C549.4,298.1 551.2,296.1 552.6,294.7 C554.0,293.3 555.2,292.3 556.4,290.9 C557.6,289.4 558.6,288.1 560.0,286.0 C561.4,283.9 563.9,279.8 564.7,278.6"/>
<path class="rd" d="M548.0,299.3 C547.7,300.2 546.7,302.9 546.1,304.9 C545.5,306.9 544.7,309.2 544.2,311.4 C543.7,313.6 543.0,316.3 543.3,318.0 C543.6,319.7 544.9,321.2 546.1,321.7 C547.4,322.2 549.2,321.3 550.8,320.8 C552.3,320.3 553.4,319.4 555.4,318.9 C557.4,318.3 560.6,318.1 562.9,317.5 C565.2,316.9 567.2,316.2 569.4,315.2 C571.6,314.2 573.6,312.6 575.9,311.4 C578.2,310.1 580.9,308.5 583.4,307.7 C585.9,306.9 589.2,306.5 590.9,306.3 C592.6,306.1 592.5,306.1 593.6,306.6 C594.7,307.1 596.4,308.3 597.3,309.4 C598.2,310.5 598.3,312.0 599.2,313.1 C600.1,314.2 601.4,315.4 602.9,316.0 C604.4,316.6 607.0,317.1 608.5,316.9 C610.0,316.7 611.6,315.3 612.2,315.0"/>
<path class="rd" d="M562.0,328.2 C563.1,327.0 566.5,323.3 568.5,320.8 C570.5,318.3 572.2,315.6 574.1,313.3 C576.0,311.0 577.8,308.8 579.7,306.8 C581.6,304.8 583.1,303.2 585.3,301.2 C587.5,299.2 590.4,296.8 592.7,294.7 C595.0,292.6 597.0,290.6 599.2,288.9 C601.4,287.1 604.6,285.0 605.7,284.2"/>
<path class="rd" d="M522.8,346.0 C525.4,345.8 533.9,345.6 538.6,345.0 C543.3,344.4 546.9,343.3 550.8,342.2 C554.7,341.1 558.4,340.1 562.0,338.5 C565.6,336.9 569.2,334.8 572.2,332.9 C575.2,331.0 577.5,329.0 579.7,327.3 C581.9,325.6 583.4,324.5 585.3,322.6 C587.2,320.7 589.0,318.1 590.9,316.1 C592.8,314.1 595.1,311.8 596.5,310.5 C597.9,309.2 597.2,310.4 599.2,308.5 C601.2,306.6 605.3,302.5 608.5,299.2 C611.7,295.9 615.5,291.5 618.6,288.7 C621.7,285.9 624.0,284.8 627.0,282.2 C630.0,279.6 633.6,275.7 636.4,272.9 C639.2,270.1 641.2,268.0 643.8,265.4 C646.4,262.8 649.7,259.6 652.2,257.0 C654.7,254.4 657.2,251.3 658.7,249.6 C660.2,247.9 661.0,247.3 661.5,246.8"/>
<path class="rd" d="M592.7,332.0 C593.9,330.8 596.8,328.3 600.0,325.0 C603.2,321.7 608.6,315.9 612.2,312.2 C615.8,308.5 618.4,305.8 621.5,302.9 C624.6,299.9 627.8,296.7 630.9,294.5 C634.0,292.3 637.2,291.9 640.1,289.7 C643.0,287.5 646.5,284.1 648.5,281.3 C650.5,278.5 650.3,275.1 652.2,272.9 C654.1,270.7 657.2,270.1 659.7,268.2 C662.2,266.3 664.8,263.7 667.1,261.7 C669.4,259.7 671.6,258.3 673.7,256.1 C675.9,253.9 679.0,249.8 680.0,248.6"/>
<path class="rd" d="M610.3,279.4 C611.7,278.3 616.0,275.1 618.6,272.9 C621.2,270.7 623.5,268.7 626.1,266.4 C628.8,264.1 632.0,261.2 634.5,258.9 C637.0,256.6 639.0,254.4 641.0,252.4 C643.0,250.4 644.7,248.4 646.6,246.8 C648.5,245.2 650.5,243.7 652.2,243.1 C653.9,242.5 655.4,242.6 656.9,243.1 C658.4,243.6 659.8,245.1 661.5,245.9 C663.2,246.7 665.2,246.8 667.1,247.7 C669.0,248.6 671.5,250.3 672.7,251.4 C674.0,252.5 674.3,253.7 674.6,254.2"/>
<path class="rd" d="M627.1,319.7 C628.4,318.4 632.5,314.4 634.6,312.2 C636.8,310.0 637.5,308.9 640.0,306.6 C642.5,304.3 646.2,301.2 649.3,298.6 C652.4,296.0 655.6,293.6 658.6,291.2 C661.6,288.8 664.4,286.5 667.1,284.1 C669.8,281.7 672.5,278.8 674.6,276.6 C676.8,274.4 677.4,273.5 680.0,271.0 C682.6,268.5 686.8,264.7 690.0,261.7 C693.2,258.7 695.8,256.1 699.0,253.0 C702.2,249.9 707.5,244.9 709.2,243.3"/>
<path class="rd" d="M640.0,323.8 C641.5,322.4 646.2,318.0 649.3,315.4 C652.4,312.8 655.5,310.6 658.6,308.0 C661.7,305.4 664.9,302.4 668.0,299.6 C671.1,296.8 674.5,293.7 677.3,291.2 C680.1,288.7 682.9,286.4 684.8,284.7 C686.7,283.0 687.9,281.5 688.5,280.9"/>
<path class="rd" d="M659.6,315.4 C660.7,314.5 664.2,311.7 666.1,309.8 C668.0,307.9 669.7,306.1 670.8,304.2 C671.9,302.3 672.1,299.8 672.6,298.6 C673.1,297.4 673.4,297.1 673.6,296.8"/>
<path class="rd" d="M682.9,306.1 C684.0,304.9 687.2,301.1 689.4,298.6 C691.6,296.1 693.9,293.4 695.9,291.2 C697.9,289.0 699.6,287.5 701.5,285.6 C703.4,283.7 704.0,283.1 707.1,280.0 C710.2,276.9 717.9,269.2 720.0,267.0"/>
<path class="rd" d="M675.4,318.2 C676.0,317.7 678.3,316.3 679.2,315.4 C680.1,314.5 680.4,314.2 681.0,312.6 C681.6,311.1 682.6,307.2 682.9,306.1"/>
<path class="rd" d="M690.3,328.5 C691.9,327.2 696.6,323.6 699.7,321.0 C702.8,318.4 705.6,315.7 709.0,312.6 C712.4,309.5 718.2,304.1 720.0,302.4"/>
<path class="rd" d="M705.3,336.0 C706.5,334.9 710.2,331.4 712.7,329.4 C715.2,327.4 718.8,324.7 720.0,323.8"/>
<path class="rd" d="M612.1,230.0 C612.0,231.2 611.0,234.7 611.2,237.5 C611.4,240.3 612.5,244.0 613.1,246.8 C613.7,249.6 614.3,252.5 614.9,254.2 C615.5,255.9 615.4,256.4 616.8,257.0 C618.2,257.6 620.8,257.8 623.3,258.0 C625.8,258.2 629.8,257.9 631.7,258.0 C633.6,258.1 634.0,258.8 634.5,258.9"/>
<path class="rd" d="M610.3,237.5 C609.8,238.1 608.3,240.0 607.5,241.2 C606.7,242.4 605.9,244.3 605.6,244.9"/>
<polyline class="rd" points="532.2,307.6 544.7,302.4"/>
<path class="rd" d="M679.2,185.6 C678.6,185.9 676.6,186.6 675.4,187.5 C674.1,188.4 672.8,190.0 671.7,191.2 C670.6,192.4 669.7,193.7 668.9,194.9 C668.1,196.1 667.3,198.0 667.0,198.6"/>
<path class="rd" d="M17.5,36.8 C18.4,37.8 21.1,40.5 23.0,43.0 C24.9,45.5 28.0,50.1 29.0,51.5"/>
<path class="rd" d="M563.4,16.1 C562.9,16.8 561.5,18.9 560.5,20.5 C559.5,22.1 558.7,24.3 557.7,25.9 C556.7,27.5 555.3,28.3 554.5,30.0 C553.7,31.7 553.2,35.0 553.0,36.0"/>
</g><g id="symbols">
<use href="#p15" x="164.3" y="582.0"/>
<use href="#p15" x="400.7" y="530.4"/>
<use href="#p15" x="398.8" y="562.5"/>
<use href="#p15" x="567.7" y="478.8"/>
<use href="#p15" x="659.7" y="504.2"/>
<use href="#p15" x="625.0" y="113.1"/>
<use href="#p15" x="615.2" y="122.6"/>
<use href="#p15" x="685.9" y="124.7"/>
<use href="#p15" x="695.3" y="114.2"/>
<use href="#p15" x="714.2" y="114.2"/>
<use href="#p15" x="719.4" y="146.7"/>
<use href="#p15" x="732.0" y="153.0"/>
<use href="#p15" x="722.6" y="163.5"/>
<use href="#p15" x="714.2" y="171.9"/>
<use href="#p15" x="704.7" y="181.3"/>
<use href="#p15" x="733.1" y="170.8"/>
<use href="#p15" x="735.2" y="190.8"/>
<use href="#p15" x="735.2" y="210.7"/>
<use href="#p15" x="665.9" y="190.8"/>
<use href="#p15" x="683.8" y="160.3"/>
<use href="#p15" x="685.9" y="154.1"/>
<use href="#p15" x="714.2" y="133.1"/>
<use href="#p15" x="725.7" y="122.6"/>
<use href="#p15" x="729.9" y="137.3"/>
<use href="#p15" x="571.5" y="205.4"/>
<use href="#p15" x="563.1" y="213.8"/>
<use href="#p15" x="672.6" y="81.0"/>
<use href="#p15" x="704.8" y="87.3"/>
<use href="#p15" x="717.3" y="92.9"/>
<use href="#p15" x="732.7" y="95.7"/>
<use href="#p15" x="693.6" y="96.4"/>
<use href="#p15" x="704.8" y="106.2"/>
<use href="#p15" x="724.3" y="106.2"/>
<use href="#p15" x="753.7" y="110.3"/>
<use href="#p15" x="738.3" y="128.5"/>
<use href="#p15" x="750.9" y="134.1"/>
<use href="#p15" x="770.5" y="134.1"/>
<use href="#p15" x="742.5" y="143.2"/>
<use href="#p15" x="688.0" y="150.0"/>
<use href="#p15" x="810.9" y="136.0"/>
<use href="#p15" x="802.5" y="145.1"/>
<use href="#p15" x="823.5" y="146.5"/>
<use href="#p15" x="750.8" y="152.8"/>
<use href="#p15" x="768.3" y="152.8"/>
<use href="#p15" x="792.7" y="152.8"/>
<use href="#p15" x="816.5" y="156.3"/>
<use href="#p15" x="831.9" y="156.3"/>
<use href="#p15" x="741.7" y="161.9"/>
<use href="#p15" x="761.3" y="162.6"/>
<use href="#p15" x="783.6" y="164.0"/>
<use href="#p15" x="805.3" y="165.3"/>
<use href="#p15" x="824.2" y="167.4"/>
<use href="#p15" x="755.7" y="175.8"/>
<use href="#p15" x="773.1" y="173.7"/>
<use href="#p15" x="795.5" y="175.1"/>
<use href="#p15" x="815.1" y="175.1"/>
<use href="#p15" x="743.8" y="180.0"/>
<use href="#p15" x="764.8" y="183.5"/>
<use href="#p15" x="785.7" y="184.9"/>
<use href="#p15" x="805.3" y="186.3"/>
<use href="#p15" x="824.9" y="184.2"/>
<use href="#p15" x="755.0" y="193.3"/>
<use href="#p15" x="795.5" y="195.4"/>
<use href="#p15" x="745.2" y="200.3"/>
<use href="#p15" x="771.7" y="199.6"/>
<use href="#p15" x="827.7" y="200.3"/>
<use href="#p15" x="818.4" y="211.7"/>
<use href="#p15" x="809.7" y="221.1"/>
<use href="#p15" x="825.7" y="221.1"/>
<use href="#p15" x="818.4" y="230.6"/>
<use href="#p15" x="777.6" y="213.8"/>
<use href="#p15" x="834.5" y="211.7"/>
<use href="#p15" x="684.6" y="87.4"/>
<use href="#p15" x="675.7" y="97.2"/>
<use href="#p15" x="668.1" y="274.8"/>
<use href="#p15" x="642.2" y="94.0"/>
<use href="#p15" x="631.6" y="102.9"/>
<use href="#p12" x="511.3" y="132.6"/>
<use href="#p12" x="492.4" y="151.5"/>
<use href="#p12" x="527.1" y="152.5"/>
<use href="#p12" x="473.6" y="170.3"/>
<use href="#p12" x="507.1" y="170.3"/>
<use href="#p12" x="544.9" y="171.4"/>
<use href="#p12" x="488.2" y="188.2"/>
<use href="#p12" x="526.0" y="189.2"/>
<use href="#p12" x="544.9" y="200.8"/>
<use href="#p12" x="507.1" y="206.0"/>
<use href="#p12" x="534.4" y="210.2"/>
<use href="#p12" x="523.9" y="217.5"/>
<use href="#p12" x="553.3" y="222.8"/>
<use href="#p12" x="543.8" y="230.1"/>
<use href="#p12" x="401.6" y="493.4"/>
<use href="#p12" x="382.9" y="511.5"/>
<use href="#p12" x="362.5" y="530.4"/>
<use href="#p12" x="736.2" y="74.0"/>
<use href="#p12" x="688.7" y="103.4"/>
<use href="#p12" x="686.6" y="106.2"/>
<use href="#p12" x="787.8" y="132.5"/>
<use href="#p12" x="790.8" y="218.2"/>
<use href="#p12" x="782.0" y="227.0"/>
<use href="#p12" x="798.8" y="230.6"/>
<use href="#p12" x="808.2" y="240.1"/>
<use href="#p12" x="827.2" y="239.3"/>
<use href="#p12" x="801.0" y="206.6"/>
<use href="#p12" x="757.2" y="232.1"/>
<use href="#p12" x="767.4" y="220.4"/>
<use href="#p12" x="752.9" y="216.0"/>
<use href="#p12" x="742.7" y="226.2"/>
<use href="#p12" x="763.1" y="208.7"/>
<use href="#p12" x="827.2" y="203.6"/>
<use href="#p12" x="658.5" y="43.4"/>
<use href="#p12" x="687.9" y="47.4"/>
<use href="#p12" x="705.8" y="48.3"/>
<use href="#p12" x="631.6" y="67.0"/>
<use href="#p12" x="622.6" y="75.2"/>
<use href="#p12" x="689.5" y="97.2"/>
<use href="#p12" x="696.1" y="92.3"/>
<use href="#p12" x="774.2" y="38.1"/>
<use href="#p12" x="757.0" y="56.0"/>
<use href="#p12" x="523.5" y="345.7"/>
<use href="#p12" x="573.1" y="296.1"/>
<use href="#p12" x="564.8" y="305.2"/>
<use href="#p12" x="555.0" y="315.0"/>
<use href="#p12" x="573.8" y="314.3"/>
<use href="#p12" x="564.8" y="323.4"/>
<use href="#p12" x="584.3" y="322.0"/>
<use href="#p12" x="584.3" y="304.5"/>
<use href="#p12" x="592.7" y="296.8"/>
<use href="#p12" x="602.5" y="286.3"/>
<use href="#p12" x="592.7" y="313.6"/>
<use href="#p12" x="598.3" y="329.0"/>
<use href="#p12" x="608.1" y="320.6"/>
<use href="#p12" x="612.3" y="295.4"/>
<use href="#p12" x="617.9" y="310.1"/>
<use href="#p12" x="620.7" y="286.3"/>
<use href="#p12" x="597.3" y="273.4"/>
<use href="#p12" x="556.8" y="291.5"/>
<use href="#p12" x="628.7" y="321.9"/>
<use href="#p12" x="644.8" y="320.5"/>
<use href="#p12" x="692.3" y="324.0"/>
<use href="#p12" x="703.5" y="314.2"/>
<use href="#p12" x="622.4" y="269.4"/>
<use href="#p12" x="640.6" y="268.0"/>
<use href="#p12" x="612.6" y="277.8"/>
<use href="#p12" x="630.8" y="277.8"/>
<use href="#p12" x="636.4" y="293.1"/>
<use href="#p12" x="625.2" y="302.9"/>
<use href="#p12" x="647.6" y="302.9"/>
<use href="#p12" x="637.8" y="312.7"/>
<use href="#p12" x="630.9" y="261.9"/>
<use href="#p12" x="637.4" y="271.2"/>
<use href="#p12" x="634.6" y="316.0"/>
<use href="#p12" x="102.4" y="554.4"/>
<use href="#p12" x="83.0" y="571.3"/>
<use href="#p12" x="464.3" y="16.0"/>
<use href="#pre" x="458.4" y="528.7"/>
<use href="#pre" x="472.2" y="576.6"/>
<use href="#pre" x="503.1" y="608.0"/>
<use href="#pre" x="483.1" y="477.8"/>
<use href="#pre" x="549.9" y="548.7"/>
<use href="#pre" x="814.8" y="472.0"/>
<use href="#pre" x="654.4" y="244.3"/>
<use href="#pre" x="720.8" y="249.5"/>
<use href="#pre" x="741.2" y="279.4"/>
<use href="#pre" x="763.1" y="280.9"/>
<use href="#pre" x="729.6" y="287.4"/>
<use href="#pre" x="754.3" y="288.9"/>
<use href="#pre" x="694.4" y="274.4"/>
<use href="#pre" x="700.9" y="291.9"/>
<use href="#pre" x="722.8" y="297.7"/>
<use href="#pre" x="744.6" y="299.1"/>
<use href="#pre" x="711.9" y="306.4"/>
<use href="#pre" x="733.7" y="308.6"/>
<use href="#pre" x="725.7" y="316.6"/>
<use href="#pre" x="768.7" y="318.1"/>
<use href="#pre" x="776.0" y="309.3"/>
<use href="#pre" x="785.4" y="319.5"/>
<use href="#pre" x="794.2" y="310.8"/>
<use href="#pre" x="758.5" y="326.1"/>
<use href="#pre" x="777.4" y="328.3"/>
<use href="#pre" x="730.8" y="336.3"/>
<use href="#pre" x="749.0" y="335.6"/>
<use href="#pre" x="768.7" y="337.0"/>
<use href="#pre" x="696.6" y="344.3"/>
<use href="#pre" x="740.3" y="345.0"/>
<use href="#pre" x="758.5" y="346.5"/>
<use href="#pre" x="749.7" y="356.0"/>
<use href="#pre" x="683.9" y="248.4"/>
<use href="#pre" x="673.4" y="258.2"/>
<use href="#pre" x="704.9" y="245.6"/>
<use href="#pre" x="695.1" y="255.4"/>
<use href="#pre" x="713.3" y="256.8"/>
<use href="#pre" x="703.5" y="266.6"/>
<use href="#pre" x="685.3" y="265.2"/>
<use href="#pre" x="676.9" y="275.0"/>
<use href="#pre" x="667.1" y="283.4"/>
<use href="#pre" x="683.9" y="284.8"/>
<use href="#pre" x="657.3" y="293.1"/>
<use href="#pre" x="674.1" y="293.1"/>
<use href="#pre" x="665.7" y="302.9"/>
<use href="#pre" x="654.5" y="311.3"/>
<use href="#pre" x="685.3" y="314.1"/>
<use href="#pre" x="669.9" y="323.9"/>
<use href="#pre" x="710.5" y="325.3"/>
<use href="#pre" x="683.2" y="333.8"/>
<use href="#pre" x="660.1" y="344.3"/>
<use href="#pre" x="692.5" y="25.4"/>
<use href="#p15d" x="563.1" y="183.4"/>
<use href="#p15d" x="584.1" y="214.9"/>
<use href="#p15d" x="605.6" y="245.6"/>
<use href="#p15d" x="630.0" y="34.4"/>
<use href="#p15d" x="639.8" y="25.4"/>
<use href="#p15d" x="649.6" y="33.6"/>
<use href="#p15d" x="678.9" y="57.2"/>
<use href="#p15d" x="689.5" y="67.0"/>
<use href="#p15d" x="698.5" y="75.4"/>
<use href="#p15d" x="704.7" y="124.3"/>
<use href="#p15d" x="711.9" y="337.3"/>
<use href="#p15d" x="728.5" y="82.4"/>
<use href="#p15d" x="740.8" y="106.2"/>
<use href="#p15d" x="759.9" y="125.5"/>
<use href="#p15d" x="760.0" y="143.2"/>
<use href="#p15d" x="779.4" y="143.7"/>
<use href="#p15d" x="786.4" y="203.1"/>
<use href="#p15d" x="814.0" y="194.7"/>
<use href="#p15d" x="831.9" y="175.8"/>
<use href="#p15d" x="715.5" y="326.6"/>
<use href="#pred" x="671.2" y="197.7"/>
<use href="#pred" x="579.3" y="233.8"/>
<use href="#pred" x="715.7" y="277.2"/>
<use href="#pred" x="746.1" y="321.7"/>
<use href="#pred" x="654.5" y="277.8"/>
<use href="#pred" x="616.8" y="254.7"/>
<use href="#pred" x="688.8" y="307.1"/>
<use href="#pred" x="674.8" y="332.4"/>
<use href="#pred" x="431.6" y="491.3"/>
<use href="#pred" x="527.8" y="519.7"/>
<use href="#pred" x="548.7" y="592.7"/>
<use href="#pred" x="763.2" y="366.6"/>
<use href="#p12d" x="635.7" y="329.6"/>
<use href="#p12d" x="660.1" y="332.4"/>
<use href="#p12d" x="602.5" y="306.6"/>
<use href="#p12d" x="661.4" y="312.6"/>
<use href="#p3" x="438.0" y="64.8"/>
<use href="#p3" x="449.9" y="93.3"/>
<use href="#p3" x="63.7" y="589.7"/>
<use href="#p3" x="476.3" y="184.0"/>
<use href="#p3" x="479.9" y="196.6"/>
<use href="#p3" x="499.8" y="215.4"/>
<use href="#p3" x="514.9" y="227.4"/>
<use href="#p3" x="535.4" y="240.6"/>
<use href="#p3" x="554.3" y="240.6"/>
<use href="#p3" x="560.6" y="251.7"/>
<use href="#p3" x="773.3" y="235.0"/>
<use href="#p3" x="789.3" y="240.1"/>
</g>

<!-- small labels -->
<g class="id">
<text x="445.5" y="66.8">17403</text>
<text x="459" y="96">17404-17407</text>
<text x="71" y="592.6">17402</text>
<text x="564.5" y="403.5" style="font-size:6.8px">17351</text>
</g>
<g style="font-size:6.2px;fill:#222;font-weight:bold">
<text x="599.5" y="93.3">17354</text>
<text x="599" y="104.4">17353</text>
<text x="599.5" y="115.4">17352</text>
<text x="648.5" y="94">17357</text>
<text x="648.5" y="104.6">17355</text>
<text x="648.5" y="115.4">17356</text>
</g>
<g class="id" text-anchor="middle" dominant-baseline="central" style="font-size:8.4px">
<text transform="translate(461.6,199.1) rotate(-42.5)">17414</text>
<text transform="translate(464.9,211.9) rotate(-42.5)">17412</text>
<text transform="translate(484.8,229.4) rotate(-42.5)">17408</text>
<text transform="translate(500.6,242.2) rotate(-42.5)">17409</text>
<text transform="translate(511,266.3) rotate(-42.5)">17410-17411</text>
<text transform="translate(540,255.5) rotate(-42.5)">17413</text>
<text transform="translate(547.5,267.1) rotate(-42.5)">17415</text>
<text transform="translate(757.2,249.5) rotate(-45)">17417</text>
<text transform="translate(772.5,256.1) rotate(-45)">17416</text>
</g>

<!-- frame -->
<g stroke-width="1" fill="none">
<line x1="17" y1="14.5" x2="836" y2="14.5" stroke="#7a7a7a"/>
<line x1="17.5" y1="14" x2="17.5" y2="641" stroke="#b0b0b0"/>
<line x1="835.5" y1="14" x2="835.5" y2="641" stroke="#999"/>
<line x1="17" y1="640.5" x2="836" y2="640.5" stroke="#aaa"/>
</g>

<!-- legend -->
<rect x="28.5" y="21.5" width="242" height="200" fill="#fff" stroke="none"/>
<g stroke-width="1" fill="none">
<line x1="28" y1="21.5" x2="271" y2="21.5" stroke="#a8a8a8"/>
<line x1="28.5" y1="21" x2="28.5" y2="222" stroke="#999"/>
<line x1="270.5" y1="21" x2="270.5" y2="222" stroke="#bbb"/>
<line x1="28" y1="221.5" x2="271" y2="221.5" stroke="#444"/>
</g>
<text x="149.5" y="44.6" text-anchor="middle" style="font-size:15px;font-weight:bold;fill:#111">Explanation</text>
<rect x="107" y="46" width="85" height="1.2" fill="#111"/>
<g style="font-size:11px;fill:#111">
<text x="92.5" y="77">Drill collar - 2017 Phase 3</text>
<text x="92.5" y="107.8">Drill collar - 2017 Phases 1-2</text>
<text x="92.5" y="138.5">Drill collar - 2015-2016</text>
<text x="92.5" y="169.3">Drill collar - pre 2015</text>
<text x="92.5" y="199.5">Road</text>
</g>
<use href="#p3" x="61.4" y="73.5"/>
<use href="#p12" x="61.4" y="104.3"/>
<use href="#p15" x="61.4" y="135.2"/>
<use href="#preL" x="61.4" y="165.9"/>
<line x1="45.2" y1="197.1" x2="77.7" y2="197.1" class="rd" style="stroke-linecap:butt"/>

<!-- labels -->
<g class="lbl" style="font-size:19.8px">
<text x="389" y="93.3">Forks</text>
<text x="714.5" y="51">North</text>
<text x="773" y="51">Peak</text>
<text x="293" y="260.7">West</text>
<text x="347" y="260.7">Peak</text>
<text x="397.5" y="260.7">Extension</text>
<text x="656.5" y="386.3">Main</text>
<text x="709" y="386.3">Peak</text>
<text x="434.5" y="556.2">Discovery</text>
<text x="43" y="545">7 O’clock</text>
</g>
<!-- scale bar -->
<rect x="727.5" y="567.5" width="97" height="63" fill="#fff" stroke="#888" stroke-width="1"/>
<rect x="745" y="590" width="31" height="12.2" fill="#000"/>
<rect x="776" y="590.5" width="30.7" height="11.5" fill="#fff" stroke="#999" stroke-width="0.8"/>
<g style="font-size:10.5px;fill:#111" text-anchor="middle">
<text x="742.4" y="584.5">0</text>
<text x="776.4" y="584.5">70</text>
<text x="804.6" y="584.5">140</text>
<text x="776.5" y="616.2">Meters</text>
</g>

</svg>
</body></html>
